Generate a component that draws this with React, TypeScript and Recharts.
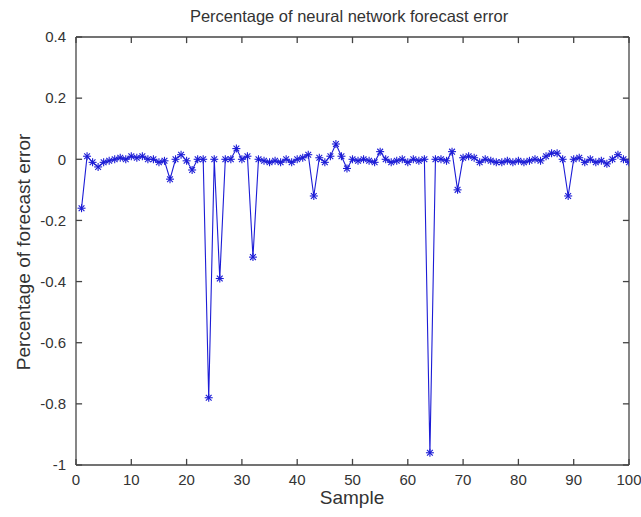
import React from 'react';
import { LineChart, Line, XAxis, YAxis, ReferenceLine } from 'recharts';

// sample index 1..100
const samples = Array.from({ length: 100 }, (_, i) => i + 1);

// forecast error values
const errorValues = [
  -0.16, 0.01, -0.01, -0.025, -0.01, -0.005, 0.0, 0.005, 0.0, 0.01,
  0.005, 0.01, 0.0, 0.0, -0.01, -0.005, -0.065, 0.0, 0.015, -0.005,
  -0.035, 0.0, 0.0, -0.78, 0.0, -0.39, 0.0, 0.0, 0.035, 0.0,
  0.01, -0.32, 0.0, -0.005, -0.01, -0.005, -0.01, 0.0, -0.01, 0.0,
  0.005, 0.015, -0.12, 0.005, -0.01, 0.01, 0.05, 0.01, -0.03, 0.0,
  -0.005, 0.0, -0.005, -0.01, 0.025, 0.0, -0.01, -0.005, 0.0, -0.01,
  0.0, -0.005, 0.0, -0.96, 0.0, 0.0, -0.005, 0.025, -0.1, 0.005,
  0.01, 0.005, -0.01, 0.0, -0.005, -0.01, -0.01, -0.005, -0.01, -0.005,
  -0.01, -0.005, 0.0, -0.005, 0.01, 0.02, 0.02, 0.0, -0.12, 0.0,
  0.005, -0.01, 0.0, -0.01, -0.005, -0.015, 0.0, 0.015, 0.0, -0.01,
];

const xTicks = [0, 10, 20, 30, 40, 50, 60, 70, 80, 90, 100];
const yTicks = [0.4, 0.2, 0, -0.2, -0.4, -0.6, -0.8, -1];

const data = samples.map((s, i) => ({ sample: s, error: errorValues[i] }));

const X_MIN = 0;
const X_MAX = 100;
const Y_MIN = -1;
const Y_MAX = 0.4;
// inward tick length in data units (~6px)
const TX = 1.1;
const TY = 0.02;

const LINE = '#1c1cd6';
const AXIS = '#444';
const FONT = '"Liberation Sans", Arial, sans-serif';

// matlab style '*' marker
const StarDot = (props: any) => {
  const { cx, cy } = props;
  if (cx == null || cy == null) return null;
  const r = 4;
  const d = r * 0.72;
  return (
    <g stroke={LINE} strokeWidth={1.1}>
      <line x1={cx - r} y1={cy} x2={cx + r} y2={cy} />
      <line x1={cx} y1={cy - r} x2={cx} y2={cy + r} />
      <line x1={cx - d} y1={cy - d} x2={cx + d} y2={cy + d} />
      <line x1={cx - d} y1={cy + d} x2={cx + d} y2={cy - d} />
    </g>
  );
};

const tickStyle = { fill: '#333', fontSize: 15, fontFamily: FONT };

export default function App() {
  return (
    <div style={{ position: 'absolute', left: 0, top: 0, width: 641, height: 517, background: '#fff', fontFamily: FONT }}>
      <div style={{ position: 'absolute', left: 0, width: 698, top: 7, textAlign: 'center', fontSize: 16.5, color: '#333' }}>
        Percentage of neural network forecast error
      </div>
      <div style={{ position: 'absolute', left: 76, width: 552, top: 487, textAlign: 'center', fontSize: 19, color: '#333' }}>
        Sample
      </div>
      <div style={{ position: 'absolute', left: 24, top: 252, width: 0, height: 0 }}>
        <div style={{ position: 'absolute', transform: 'translate(-50%, -50%) rotate(-90deg)', whiteSpace: 'nowrap', fontSize: 19, color: '#333' }}>
          Percentage of forecast error
        </div>
      </div>
      <LineChart
        width={641}
        height={517}
        data={data}
        margin={{ top: 37, right: 12, bottom: 22, left: 36 }}
        style={{ position: 'absolute', left: 0, top: 0 }}
      >
        <XAxis
          dataKey="sample"
          type="number"
          domain={[X_MIN, X_MAX]}
          ticks={xTicks}
          height={30}
          stroke={AXIS}
          strokeWidth={1.3}
          tickLine={false}
          tickSize={6}
          tickMargin={3}
          tick={tickStyle}
          allowDataOverflow
        />
        <YAxis
          type="number"
          domain={[Y_MIN, Y_MAX]}
          ticks={yTicks}
          width={40}
          stroke={AXIS}
          strokeWidth={1.3}
          tickLine={false}
          tickSize={6}
          tickMargin={4}
          tick={tickStyle}
          allowDataOverflow
        />
        {/* box edges */}
        <ReferenceLine y={Y_MAX} stroke={AXIS} strokeWidth={1.3} ifOverflow="visible" />
        <ReferenceLine x={X_MAX} stroke={AXIS} strokeWidth={1.3} ifOverflow="visible" />
        {/* inward ticks on all four sides */}
        {xTicks.map((t) => (
          <ReferenceLine key={`xb${t}`} stroke={AXIS} strokeWidth={1.3} ifOverflow="visible" segment={[{ x: t, y: Y_MIN }, { x: t, y: Y_MIN + TY }]} />
        ))}
        {xTicks.map((t) => (
          <ReferenceLine key={`xt${t}`} stroke={AXIS} strokeWidth={1.3} ifOverflow="visible" segment={[{ x: t, y: Y_MAX }, { x: t, y: Y_MAX - TY }]} />
        ))}
        {yTicks.map((t) => (
          <ReferenceLine key={`yl${t}`} stroke={AXIS} strokeWidth={1.3} ifOverflow="visible" segment={[{ x: X_MIN, y: t }, { x: X_MIN + TX, y: t }]} />
        ))}
        {yTicks.map((t) => (
          <ReferenceLine key={`yr${t}`} stroke={AXIS} strokeWidth={1.3} ifOverflow="visible" segment={[{ x: X_MAX, y: t }, { x: X_MAX - TX, y: t }]} />
        ))}
        <Line
          type="linear"
          dataKey="error"
          stroke={LINE}
          strokeWidth={1.1}
          dot={<StarDot />}
          activeDot={false}
          isAnimationActive={false}
        />
      </LineChart>
    </div>
  );
}
